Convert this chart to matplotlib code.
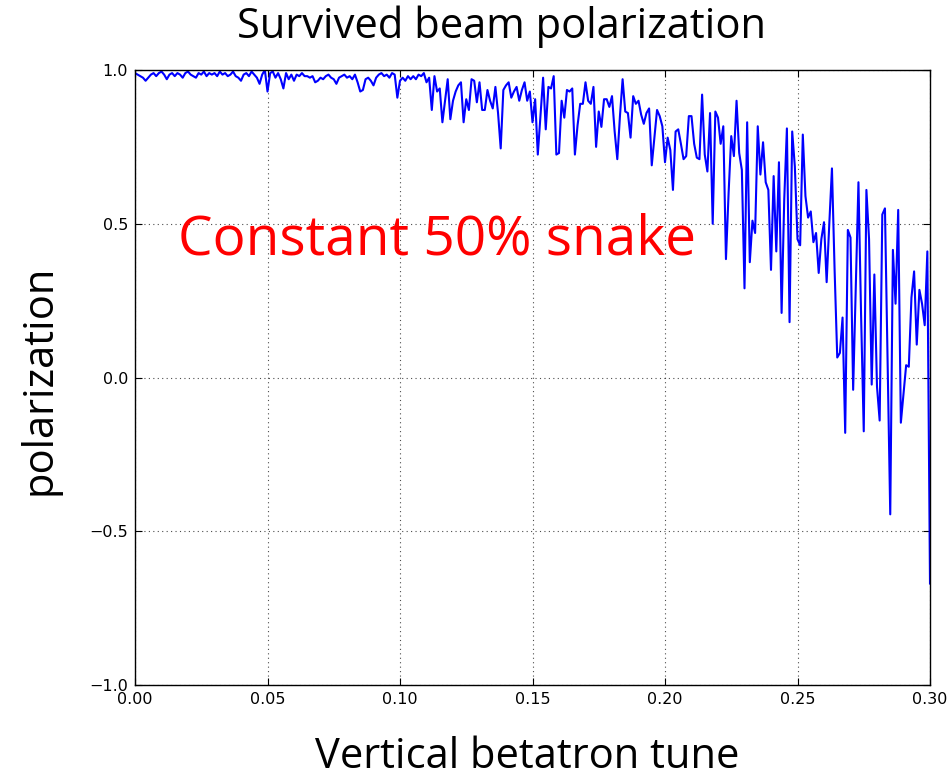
import numpy as np
import matplotlib
matplotlib.use("Agg")
import matplotlib.pyplot as plt

# Vertical betatron tune samples (0.000 .. 0.300, step 0.001)
tune = np.round(np.arange(301) * 0.001, 3)

pol_000_049 = [0.99, 0.985, 0.98, 0.975, 0.965, 0.975, 0.985, 0.99, 0.98, 0.99,
               0.995, 0.985, 0.97, 0.985, 0.99, 0.98, 0.99, 0.985, 0.975, 0.99,
               0.995, 0.985, 0.98, 0.975, 0.99, 0.985, 0.995, 0.98, 0.99, 0.985,
               0.99, 0.98, 0.995, 0.985, 0.99, 0.98, 0.985, 0.995, 0.98, 0.975,
               0.965, 0.985, 0.99, 0.98, 0.995, 0.985, 0.975, 0.955, 0.985, 1.0]
pol_050_099 = [0.93, 0.99, 0.995, 0.975, 0.99, 0.97, 0.94, 0.99, 0.97, 0.985,
               0.965, 0.985, 0.98, 0.99, 0.98, 0.98, 0.975, 0.98, 0.96, 0.965,
               0.975, 0.97, 0.98, 0.985, 0.975, 0.97, 0.955, 0.975, 0.98, 0.985,
               0.975, 0.98, 0.97, 0.985, 0.96, 0.93, 0.935, 0.97, 0.975, 0.965,
               0.95, 0.975, 0.985, 0.99, 0.98, 0.985, 0.975, 0.99, 0.985, 0.91]
pol_100_149 = [0.965, 0.975, 0.965, 0.98, 0.97, 0.98, 0.97, 0.985, 0.98, 0.99,
               0.96, 0.975, 0.87, 0.98, 0.93, 0.94, 0.83, 0.9, 0.97, 0.84,
               0.9, 0.93, 0.95, 0.96, 0.83, 0.905, 0.87, 0.97, 0.965, 0.895,
               0.96, 0.87, 0.87, 0.935, 0.9, 0.875, 0.945, 0.86, 0.745, 0.935,
               0.95, 0.96, 0.91, 0.93, 0.945, 0.9, 0.935, 0.96, 0.9, 0.93]
pol_150_199 = [0.83, 0.905, 0.725, 0.85, 0.975, 0.807, 0.945, 0.94, 0.98, 0.725,
               0.73, 0.9, 0.845, 0.935, 0.93, 0.94, 0.725, 0.82, 0.89, 0.89,
               0.96, 0.9, 0.89, 0.945, 0.75, 0.865, 0.815, 0.905, 0.905, 0.88,
               0.915, 0.8, 0.71, 0.85, 0.97, 0.865, 0.86, 0.78, 0.915, 0.89,
               0.9, 0.855, 0.825, 0.86, 0.875, 0.69, 0.78, 0.87, 0.85, 0.817]
pol_200_249 = [0.70, 0.78, 0.74, 0.61, 0.80, 0.807, 0.76, 0.71, 0.72, 0.85,
               0.85, 0.76, 0.715, 0.71, 0.92, 0.725, 0.67, 0.86, 0.5, 0.865,
               0.845, 0.76, 0.817, 0.385, 0.6, 0.785, 0.72, 0.90, 0.73, 0.675,
               0.29, 0.83, 0.375, 0.51, 0.47, 0.817, 0.66, 0.765, 0.635, 0.61,
               0.35, 0.655, 0.41, 0.70, 0.21, 0.58, 0.81, 0.18, 0.80, 0.686]
pol_250_300 = [0.45, 0.43, 0.79, 0.59, 0.52, 0.54, 0.44, 0.47, 0.34, 0.45,
               0.505, 0.31, 0.5, 0.68, 0.35, 0.065, 0.08, 0.195, -0.18, 0.48,
               0.455, -0.04, 0.3, 0.635, 0.2, -0.175, 0.61, 0.45, -0.023, 0.335,
               -0.03, -0.14, 0.53, 0.55, 0.05, -0.445, 0.415, 0.24, 0.545, -0.147,
               -0.055, 0.04, 0.035, 0.26, 0.345, 0.107, 0.285, 0.24, 0.17, 0.41,
               -0.67]

polarization = (pol_000_049 + pol_050_099 + pol_100_149 +
                pol_150_199 + pol_200_249 + pol_250_300)

xticks = [0.00, 0.05, 0.10, 0.15, 0.20, 0.25, 0.30]
yticks = [-1.0, -0.5, 0.0, 0.5, 1.0]

fig = plt.figure(figsize=(9.53, 7.77), dpi=100)
ax = fig.add_axes([135/953, 1 - 685/777, 795/953, 615/777])

ax.plot(tune, polarization, color='#0000ff', linewidth=1.5)

ax.set_xlim(0, 0.3)
ax.set_ylim(-1.0, 1.0)
ax.set_xticks(xticks)
ax.set_yticks(yticks)
ax.set_xticklabels([f"{v:.2f}" for v in xticks])
ax.set_yticklabels([f"{v:.1f}".replace('-', '\u2212') for v in yticks])
ax.tick_params(direction='in', top=True, right=True, length=5, labelsize=11.5, pad=5)
ax.grid(True, linestyle=(0, (1, 3)), color='black', linewidth=0.8, alpha=0.7)
for s in ax.spines.values():
    s.set_linewidth(1.0)

fig.text(502/953, 1 - 27/777, "Survived beam polarization", ha='center', va='center',
         fontsize=30, family='Open Sans')
fig.text(527/953, 1 - 757/777, "Vertical betatron tune", ha='center', va='center',
         fontsize=30, family='Open Sans')
fig.text(40/953, 1 - 380/777, "polarization", ha='center', va='center', rotation=90,
         fontsize=30, family='Open Sans')
fig.text(178/953, 1 - 240/777, "Constant 50% snake", ha='left', va='center',
         fontsize=39.5, color='#ff0000', family='Open Sans')

fig.savefig("out.png", dpi=100, facecolor='white')
